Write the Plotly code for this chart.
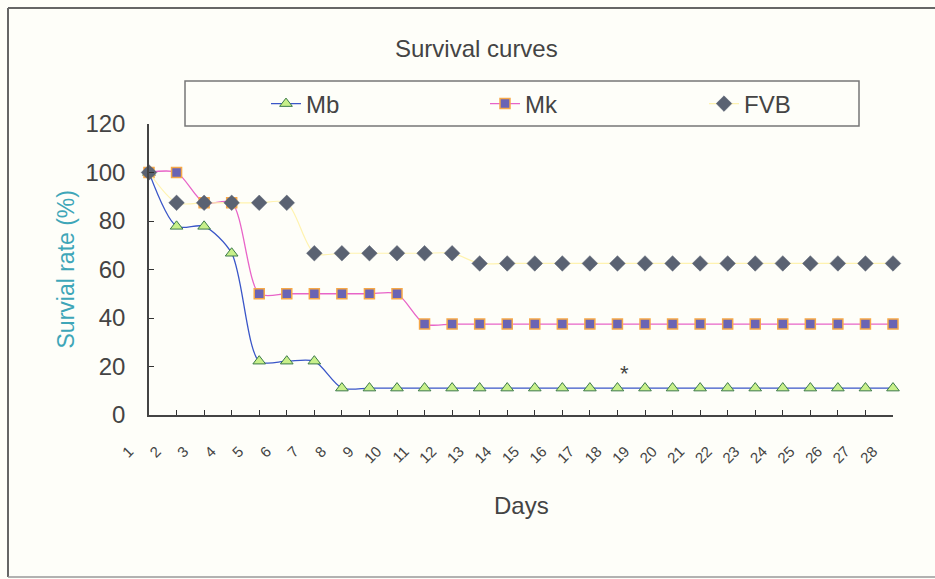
import plotly.graph_objects as go

days = list(range(1, 29))
tick_labels = [str(d) for d in days]
mb = [100, 77.8, 77.8, 66.7, 22.2, 22.2, 22.2] + [11.1] * 21
mk = [100, 100, 87.5, 87.5, 50, 50, 50, 50, 50, 50] + [37.5] * 18
fvb = [100, 87.5, 87.5, 87.5, 87.5, 87.5, 66.7, 66.7, 66.7, 66.7, 66.7, 66.7] + [62.5] * 16

FONT = "Liberation Sans, Arial, sans-serif"
BG = "#fefef9"

fig = go.Figure()
fig.add_trace(go.Scatter(
    x=days, y=mb, name="Mb", mode="lines+markers",
    line=dict(color="#3a56c8", width=1.3, shape="spline", smoothing=0.8),
    marker=dict(symbol="triangle-up", size=11, color="#c8f08a",
                line=dict(color="#3c7a4a", width=1)),
    cliponaxis=False))
fig.add_trace(go.Scatter(
    x=days, y=mk, name="Mk", mode="lines+markers",
    line=dict(color="#e864c8", width=1.3, shape="spline", smoothing=0.8),
    marker=dict(symbol="square", size=10, color="#6a64b4",
                line=dict(color="#f6a848", width=1.5)),
    cliponaxis=False))
fig.add_trace(go.Scatter(
    x=days, y=fvb, name="FVB", mode="lines+markers",
    line=dict(color="#fff3b0", width=1.2, shape="spline", smoothing=0.8),
    marker=dict(symbol="diamond", size=12, color="#5a6272",
                line=dict(color="#5a6272", width=0.5)),
    cliponaxis=False))

def px_x(p):
    return (p - 149) / 744.0

def px_y(p):
    return (415 - p) / 291.0

fig.update_layout(
    width=935, height=579,
    margin=dict(l=149, r=42, t=124, b=164, autoexpand=False),
    paper_bgcolor=BG, plot_bgcolor=BG,
    font=dict(family=FONT, color="#444444"),
    showlegend=True,
    legend=dict(orientation="h", x=px_x(266), y=px_y(104), xanchor="left",
                yanchor="middle", bgcolor="rgba(0,0,0,0)", borderwidth=0,
                font=dict(size=24, color="#444444", family=FONT),
                entrywidth=174, entrywidthmode="pixels", itemclick=False),
    xaxis=dict(range=[1, 28], tickmode="array", tickvals=days, ticktext=tick_labels,
               tickangle=-45, ticks="inside", ticklen=5, tickcolor="#333",
               showline=True, linecolor="#444", linewidth=1.5, showgrid=False,
               zeroline=False, tickfont=dict(size=15, color="#444", family=FONT),
               ticklabelshift=-20, ticklabelstandoff=20),
    yaxis=dict(range=[0, 120], tickvals=[0, 20, 40, 60, 80, 100, 120],
               ticks="inside", ticklen=5, tickcolor="#333",
               showline=True, linecolor="#444", linewidth=1.5, showgrid=False,
               zeroline=False, tickfont=dict(size=24, color="#444", family=FONT),
               ticklabelstandoff=17),
    shapes=[
        dict(type="line", xref="paper", yref="paper",
             x0=px_x(8), x1=px_x(8), y0=px_y(577), y1=px_y(8),
             line=dict(color="#666666", width=2), layer="below"),
        dict(type="line", xref="paper", yref="paper",
             x0=px_x(8), x1=px_x(940), y0=px_y(8), y1=px_y(8),
             line=dict(color="#666666", width=2), layer="below"),
        dict(type="line", xref="paper", yref="paper",
             x0=px_x(8), x1=px_x(940), y0=px_y(577), y1=px_y(577),
             line=dict(color="#999999", width=1.5), layer="below"),
        dict(type="rect", xref="paper", yref="paper",
             x0=px_x(185), x1=px_x(859), y0=px_y(126), y1=px_y(81),
             line=dict(color="#777777", width=1.5), fillcolor="rgba(0,0,0,0)", layer="below"),
    ],
    annotations=[
        dict(text="Survival curves", xref="paper", yref="paper", x=px_x(476), y=px_y(48),
             xanchor="center", yanchor="middle", showarrow=False,
             font=dict(size=24, color="#444", family=FONT)),
        dict(text="Survial rate (%)", xref="paper", yref="paper", x=px_x(65), y=0.5,
             xanchor="center", yanchor="middle", textangle=-90, showarrow=False,
             font=dict(size=23, color="#3ea6b8", family=FONT)),
        dict(text="Days", xref="paper", yref="paper", x=0.5, y=px_y(505),
             xanchor="center", yanchor="middle", showarrow=False,
             font=dict(size=24, color="#444", family=FONT)),
        dict(text="*", xref="x", yref="y", x=18.25, y=17, xanchor="center",
             yanchor="middle", showarrow=False,
             font=dict(size=22, color="#444", family=FONT)),
    ],
)

fig.write_html("out.html")
